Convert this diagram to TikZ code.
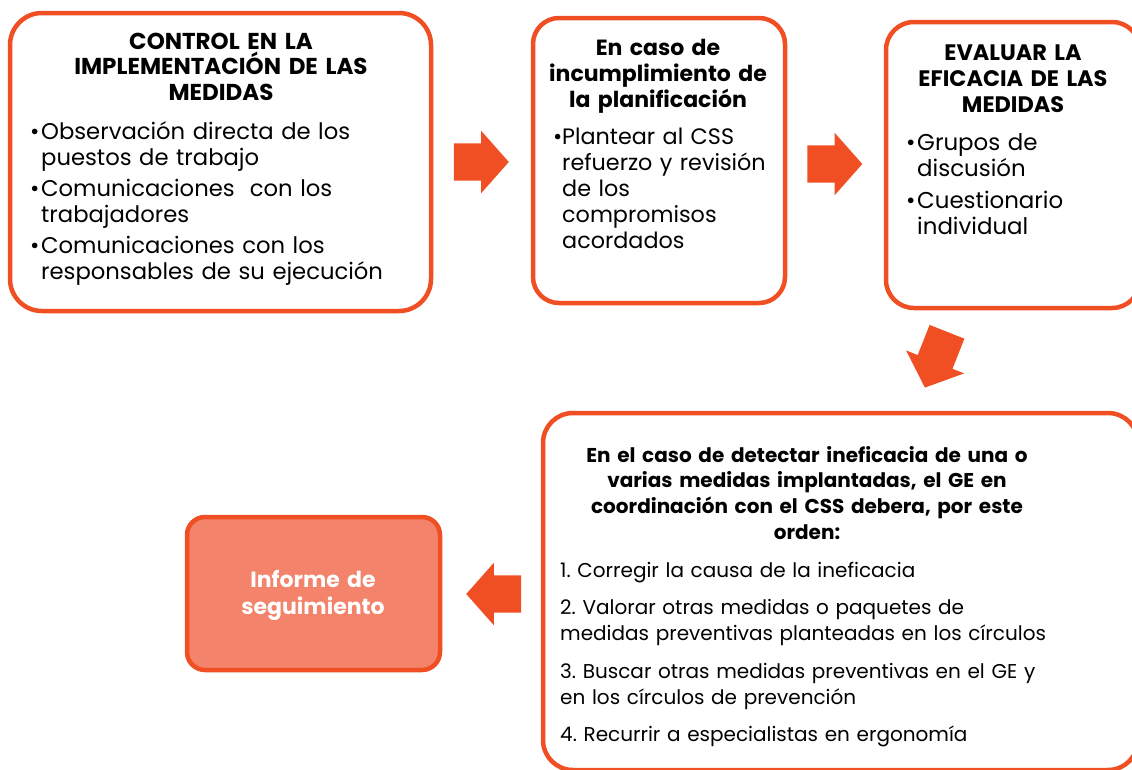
\documentclass[tikz,border=0pt]{standalone}
\usepackage{fontspec}
\setmainfont{Poppins}
\usetikzlibrary{shapes.arrows}
\definecolor{orng}{HTML}{F04E23}
\definecolor{salmon}{HTML}{F3836A}
\newcommand\bulitem[1]{\makebox[#1][l]{•}}
\newcommand\contind[1]{\hspace*{#1}}
\begin{document}
\begin{tikzpicture}[x=1pt,y=-1pt,
  box/.style={draw=orng, line width=4.5pt, fill=white, inner sep=0pt},
  blockarrow/.style={single arrow, fill=orng, draw=none, minimum height=55pt,
    minimum width=0pt, single arrow head extend=12.5pt, single arrow tip angle=97,
    inner xsep=0pt, inner ysep=18.5pt, anchor=center},
  ttl/.style={align=center, text width=#1, inner sep=0pt, anchor=base},
  bdy/.style={align=left, text width=#1, inner sep=0pt, anchor=base west},
]
\useasboundingbox (0,0) rectangle (1132,769);
\clip (0,0) rectangle (1132,769);

% boxes
\node[box, rounded corners=32pt, minimum width=421pt, minimum height=298pt] (b1) at (220.5,162) {};
\node[box, rounded corners=26pt, minimum width=252pt, minimum height=285pt] (b2) at (659,160.5) {};
\node[box, rounded corners=28pt, minimum width=254pt, minimum height=286pt] (b3) at (1013,165) {};
\node[box, rounded corners=30pt, minimum width=595pt, minimum height=357pt] (b4) at (840.5,591.5) {};
\node[box, fill=salmon, rounded corners=18pt, minimum width=253pt, minimum height=153pt] (b5) at (313.5,593.5) {};

% block arrows
\node[blockarrow] (a1) at (473,162) {};
\node[blockarrow] (a2) at (826.5,164) {};
\node[blockarrow, minimum height=60pt, rotate=248.4] (a3) at (939,352) {};
\node[blockarrow, rotate=180] (a4) at (502,594) {};

% texts
\node[ttl=400pt, font=\fontsize{23}{25.5}\selectfont\bfseries] (t1) at (221,49) {CONTROL EN LA\\IMPLEMENTACIÓN DE LAS\\MEDIDAS};
\node[bdy=400pt, font=\fontsize{22.7}{26}\selectfont] (l1) at (30,139) {\bulitem{11pt}Observación directa de los\\
  \contind{11pt}puestos de trabajo\\[5pt]
  \bulitem{11pt}Comunicaciones\ \ con los\\
  \contind{11pt}trabajadores\\[5pt]
  \bulitem{11pt}Comunicaciones con los\\
  \contind{11pt}responsables de su ejecución};

\node[ttl=240pt, font=\fontsize{22}{26}\selectfont\bfseries] (t2) at (658,55) {En caso de\\incumplimiento de\\la planificación};
\node[bdy=225pt, font=\fontsize{22.3}{26}\selectfont] (l2) at (553,144) {\bulitem{9pt}Plantear al CSS\\
  \contind{9pt}refuerzo y revisión\\
  \contind{9pt}de los\\
  \contind{9pt}compromisos\\
  \contind{9pt}acordados};

\node[ttl=240pt, font=\fontsize{22.4}{26}\selectfont\bfseries] (t3) at (1013,60) {EVALUAR LA\\EFICACIA DE LAS\\MEDIDAS};
\node[bdy=220pt, font=\fontsize{22.9}{26}\selectfont] (l3) at (906,150) {\bulitem{11pt}Grupos de\\
  \contind{11pt}discusión\\[6pt]
  \bulitem{11pt}Cuestionario\\
  \contind{11pt}individual};

\node[ttl=560pt, font=\fontsize{20}{25.8}\selectfont\bfseries] (t4) at (807,462) {En el caso de detectar ineficacia de una o\\varias medidas implantadas, el GE en\\coordinación con el CSS debera, por este\\orden:};
\node[bdy=570pt, font=\fontsize{20}{26}\selectfont\frenchspacing] (l4) at (560,577) {1. Corregir la causa de la ineficacia\\[11pt]
  2. Valorar otras medidas o paquetes de\\
  medidas preventivas planteadas en los círculos\\[12pt]
  3. Buscar otras medidas preventivas en el GE y\\
  en los círculos de prevención\\[11pt]
  4. Recurrir a especialistas en ergonomía};

\node[ttl=240pt, text=white, font=\fontsize{22}{27}\selectfont\bfseries] (t5) at (313,587) {Informe de\\seguimiento};
\end{tikzpicture}
\end{document}
